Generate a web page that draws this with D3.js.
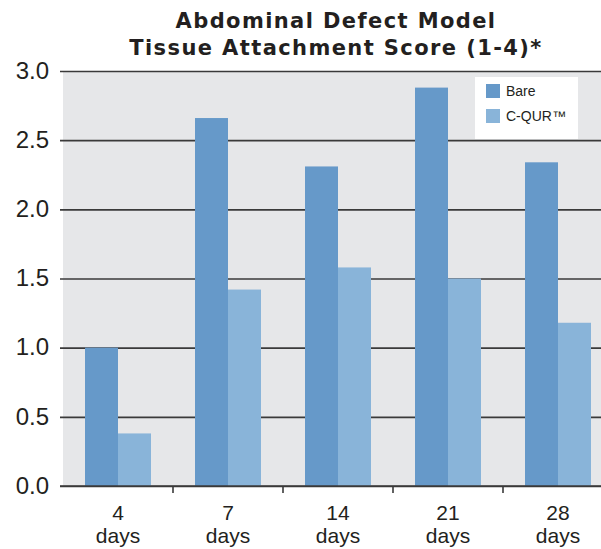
<!DOCTYPE html>
<html>
<head>
<meta charset="utf-8">
<script src="https://cdn.jsdelivr.net/npm/d3@7"></script>
<style>
  body { margin: 0; background: #fff; }
</style>
</head>
<body>
<div id="chart"></div>
<script>
// chart values
const categories = ["4", "7", "14", "21", "28"];
const series = ["Bare", "C-QUR™"];
const bare = [1.0, 2.66, 2.31, 2.88, 2.34];
const cqur = [0.38, 1.42, 1.58, 1.50, 1.18];
const yTicks = [0, 0.5, 1.0, 1.5, 2.0, 2.5, 3.0];
const titleLines = ["Abdominal Defect Model", "Tissue Attachment Score (1-4)*"];

const width = 601;
const height = 549;
const marginTop = 71;
const marginBottom = 63; // bottom axis at 486
const plotLeft = 63;
const plotRight = 613; // bands run past the cropped right edge
const textColor = "#231f20";
const colors = ["#6699c9", "#89b4d9"];

const svg = d3
  .select("#chart")
  .append("svg")
  .attr("width", width)
  .attr("height", height)
  .attr("viewBox", [0, 0, width, height])
  .style("font-family", "'Liberation Sans', Arial, Helvetica, sans-serif");

const x = d3.scaleBand(categories, [plotLeft, plotRight])
  .paddingInner(0.4)
  .paddingOuter(0.2);
const xs = d3.scaleBand([0, 1], [0, x.bandwidth()]);
const y = d3.scaleLinear([0, 3], [height - marginBottom, marginTop]);

// plot background
svg.append("rect")
  .attr("x", plotLeft)
  .attr("y", y(3))
  .attr("width", width - plotLeft)
  .attr("height", y(0) - y(3))
  .attr("fill", "#e6e7e9");

// y axis: labels and grid lines
const yAxis = d3.axisLeft(y)
  .tickValues(yTicks)
  .tickFormat(d3.format(".1f"))
  .tickSize(0)
  .tickPadding(11);

svg.append("g")
  .attr("transform", `translate(60,0)`)
  .call(yAxis)
  .call((g) => g.select(".domain").remove())
  .call((g) =>
    g.selectAll(".tick text")
      .attr("fill", textColor)
      .attr("font-size", 24)
      .attr("dy", "0.3em")
      .attr("font-family", "'Liberation Sans', Arial, sans-serif")
  )
  .call((g) =>
    g.selectAll(".tick")
      .append("line")
      .attr("x2", width - 60)
      .attr("stroke", "#3a3a3a")
      .attr("stroke-width", 1.6)
  );

// bars
const rows = categories.map((c, i) => ({ cat: c, values: [bare[i], cqur[i]] }));

svg.append("g")
  .selectAll("g")
  .data(rows)
  .join("g")
  .attr("transform", (d) => `translate(${x(d.cat)},0)`)
  .selectAll("rect")
  .data((d) => d.values.map((v, k) => ({ k, v })))
  .join("rect")
  .attr("x", (d) => xs(d.k))
  .attr("width", xs.bandwidth())
  .attr("y", (d) => y(d.v))
  .attr("height", (d) => y(0) - y(d.v))
  .attr("fill", (d) => colors[d.k]);

// bottom axis line and separator ticks
const axisG = svg.append("g");
axisG.append("line")
  .attr("x1", 60)
  .attr("x2", width)
  .attr("y1", y(0))
  .attr("y2", y(0))
  .attr("stroke", "#3a3a3a")
  .attr("stroke-width", 1.6);

axisG.selectAll(".sep")
  .data(categories.slice(1))
  .join("line")
  .attr("class", "sep")
  .attr("x1", (d) => x(d) - (x.step() - x.bandwidth()) / 2)
  .attr("x2", (d) => x(d) - (x.step() - x.bandwidth()) / 2)
  .attr("y1", y(0))
  .attr("y2", y(0) + 7)
  .attr("stroke", "#3a3a3a")
  .attr("stroke-width", 1.6);

const catLabels = axisG.selectAll(".cat")
  .data(categories)
  .join("text")
  .attr("class", "cat")
  .attr("text-anchor", "middle")
  .attr("fill", textColor)
  .attr("font-size", 21)
  .attr("x", (d) => x(d) + x.bandwidth() / 2);
catLabels.append("tspan").attr("x", (d) => x(d) + x.bandwidth() / 2).attr("y", 520).text((d) => d);
catLabels.append("tspan").attr("x", (d) => x(d) + x.bandwidth() / 2).attr("y", 543).text("days");

// title
svg.append("g")
  .selectAll("text")
  .data(titleLines)
  .join("text")
  .attr("x", 336)
  .attr("y", (d, i) => 28 + i * 27)
  .attr("text-anchor", "middle")
  .attr("font-family", "'DejaVu Sans', sans-serif")
  .attr("font-weight", "bold")
  .attr("font-size", 21)
  .attr("letter-spacing", 1.4)
  .attr("fill", textColor)
  .text((d) => d);

// legend
const legend = svg.append("g").attr("transform", "translate(475,77)");
legend.append("rect")
  .attr("width", 103)
  .attr("height", 62)
  .attr("fill", "#fff");
const item = legend.selectAll(".item")
  .data(series)
  .join("g")
  .attr("class", "item")
  .attr("transform", (d, i) => `translate(11,${7 + i * 25})`);
item.append("rect")
  .attr("width", 14)
  .attr("height", 14)
  .attr("fill", (d, i) => colors[i]);
item.append("text")
  .attr("x", 20)
  .attr("y", 12)
  .attr("font-size", 14)
  .attr("fill", textColor)
  .text((d) => d);
</script>
</body>
</html>
